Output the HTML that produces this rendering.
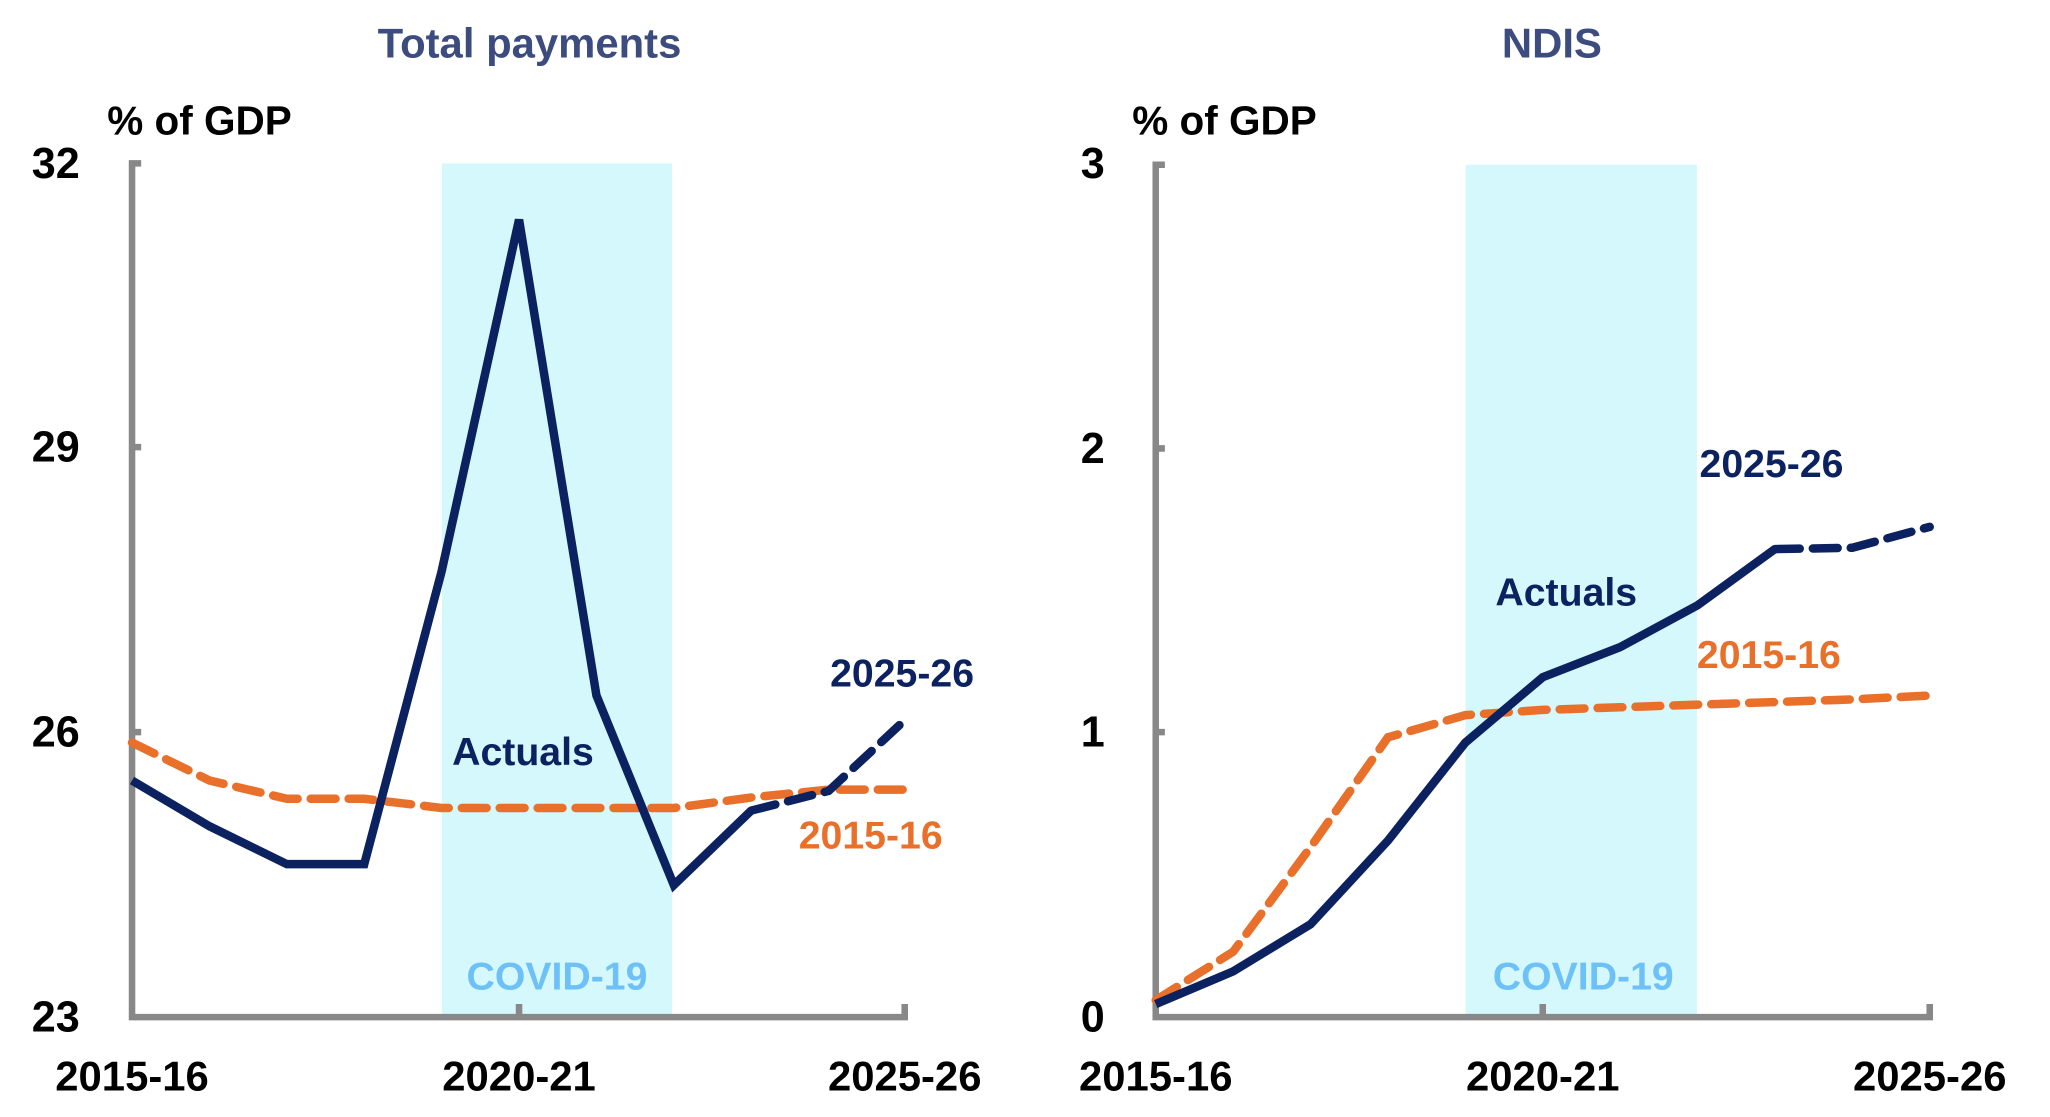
<!DOCTYPE html>
<html><head><meta charset="utf-8"><style>
html,body{margin:0;padding:0;background:#fff;}
svg{display:block;}
text{font-family:"Liberation Sans",sans-serif;font-weight:bold;}
</style></head><body>
<svg width="2050" height="1117" viewBox="0 0 1568 854.4" preserveAspectRatio="none" xmlns="http://www.w3.org/2000/svg">
<!-- LEFT PANEL -->
<rect x="338" y="125" width="176" height="653" fill="#d4f8fc"/>
<text x="405" y="44" text-anchor="middle" font-size="32" fill="#3d4c7e">Total payments</text>
<text x="82" y="103" font-size="31" fill="#000">% of GDP</text>
<g font-size="33" fill="#000" text-anchor="end">
<text x="61" y="136">32</text><text x="61" y="353">29</text><text x="61" y="571">26</text><text x="61" y="789">23</text>
</g>
<g font-size="32" fill="#000" text-anchor="middle">
<text x="101" y="834">2015-16</text><text x="397" y="834">2020-21</text><text x="692" y="834">2025-26</text>
</g>
<g stroke="#888" stroke-width="5" fill="none">
<path d="M108,125 H101 V778 H692 V768"/>
<path d="M101,342 H108 M101,560 H108 M397,778 V768"/>
</g>
<text x="426" y="757" text-anchor="middle" font-size="30" fill="#6ec1f7">COVID-19</text>
<polyline fill="none" stroke="#e8702a" stroke-width="6.5" stroke-dasharray="19,10" stroke-linecap="round" points="101,568 160.2,597 219.4,611 278.6,611 337.8,618 397,618 456.2,618 515.4,618 574.6,610 633.8,604 693,604"/>
<polyline fill="none" stroke="#0b2160" stroke-width="6.5" points="101,597 160.2,632 219.4,661 278.6,661 337.8,437 397,168 456.2,532 515.4,677 574.6,620"/>
<polyline fill="none" stroke="#0b2160" stroke-width="6.5" stroke-dasharray="19,10" stroke-linecap="round" points="574.6,620 633.8,605 693,550"/>
<text x="690" y="525" text-anchor="middle" font-size="30" fill="#0b2160">2025-26</text>
<text x="400" y="585" text-anchor="middle" font-size="30" fill="#0b2160">Actuals</text>
<text x="666" y="649" text-anchor="middle" font-size="30" fill="#e8702a">2015-16</text>

<!-- RIGHT PANEL -->
<rect x="1121" y="126" width="177" height="652" fill="#d4f8fc"/>
<text x="1187" y="44" text-anchor="middle" font-size="32" fill="#3d4c7e">NDIS</text>
<text x="866" y="103" font-size="31" fill="#000">% of GDP</text>
<g font-size="33" fill="#000" text-anchor="end">
<text x="845" y="136">3</text><text x="845" y="354">2</text><text x="845" y="571">1</text><text x="845" y="789">0</text>
</g>
<g font-size="32" fill="#000" text-anchor="middle">
<text x="884" y="834">2015-16</text><text x="1180" y="834">2020-21</text><text x="1476" y="834">2025-26</text>
</g>
<g stroke="#888" stroke-width="5" fill="none">
<path d="M891,126 H884 V778 H1476 V768"/>
<path d="M884,343 H891 M884,560 H891 M1180,778 V768"/>
</g>
<text x="1211" y="757" text-anchor="middle" font-size="30" fill="#6ec1f7">COVID-19</text>
<polyline fill="none" stroke="#e8702a" stroke-width="6.5" stroke-dasharray="19,10" stroke-linecap="round" points="884,765 943.2,728 1002.4,648 1061.6,564 1120.8,547 1180,543 1239.2,541 1298.4,539 1357.6,537 1416.8,535 1476,532"/>
<polyline fill="none" stroke="#0b2160" stroke-width="6.5" points="884,768 943.2,743 1002.4,707 1061.6,643 1120.8,568 1180,518 1239.2,495 1298.4,463 1357.6,420"/>
<polyline fill="none" stroke="#0b2160" stroke-width="6.5" stroke-dasharray="19,10" stroke-linecap="round" points="1357.6,420 1416.8,419 1476,403"/>
<text x="1355" y="365" text-anchor="middle" font-size="30" fill="#0b2160">2025-26</text>
<text x="1198" y="463" text-anchor="middle" font-size="30" fill="#0b2160">Actuals</text>
<text x="1353" y="511" text-anchor="middle" font-size="30" fill="#e8702a">2015-16</text>
</svg>
</body></html>
